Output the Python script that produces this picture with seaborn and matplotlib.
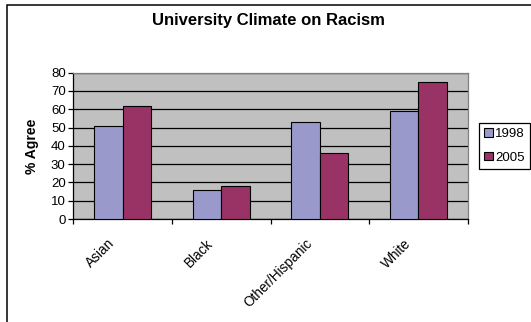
import matplotlib
matplotlib.use("Agg")
import matplotlib.pyplot as plt
import matplotlib.transforms as mtransforms
from matplotlib.patches import Rectangle
import seaborn as sns
import pandas as pd

# Survey results: share of respondents who agree, by group and year
groups = ["Asian", "Black", "Other/Hispanic", "White"]
years = ["1998", "2005"]
agree_1998 = [51, 16, 53, 59]
agree_2005 = [62, 18, 36, 75]
y_ticks = [0, 10, 20, 30, 40, 50, 60, 70, 80]

df = pd.DataFrame({
    "group": groups * 2,
    "year": [years[0]] * len(groups) + [years[1]] * len(groups),
    "agree": agree_1998 + agree_2005,
})

sns.set_theme(style="white")
plt.rcParams["font.family"] = ["Liberation Sans", "DejaVu Sans"]
for key in ["text.color", "axes.labelcolor", "xtick.color", "ytick.color"]:
    plt.rcParams[key] = "black"

W, H = 531, 322
fig = plt.figure(figsize=(W / 100, H / 100), dpi=100)
fig.patch.set_facecolor("white")

# plot area in pixel coordinates
left, right, top, bottom = 73.3, 467.7, 72.7, 219.0
ax = fig.add_axes([left / W, 1 - bottom / H, (right - left) / W, (bottom - top) / H])
ax.set_facecolor("#C0C0C0")

palette = {"1998": "#9999CC", "2005": "#993366"}
sns.barplot(data=df, x="group", y="agree", hue="year", order=groups,
            hue_order=years, palette=palette, width=0.576, gap=0,
            edgecolor="black", linewidth=0.8, saturation=1, ax=ax, zorder=3)

handles, labels = ax.get_legend_handles_labels()
if ax.get_legend() is not None:
    ax.get_legend().remove()

ax.set_xlim(-0.5, len(groups) - 0.5)
ax.set_ylim(0, 80)
ax.set_yticks(y_ticks)
ax.set_yticklabels([str(v) for v in y_ticks], fontsize=9.5)
ax.yaxis.grid(True, color="black", linewidth=0.9)
ax.set_axisbelow(True)
ax.tick_params(axis="y", direction="out", length=3.5, width=0.9, color="black",
               left=True, pad=2)

# category boundaries carry the tick marks, centres carry the labels
ax.set_xticks([i - 0.5 for i in range(len(groups) + 1)])
ax.set_xticklabels([""] * (len(groups) + 1))
ax.set_xticks(range(len(groups)), minor=True)
ax.set_xticklabels(groups, minor=True, fontsize=9.8, rotation=45,
                   ha="right", va="top")
ax.tick_params(axis="x", which="major", direction="out", length=3.5,
               width=0.9, color="black", bottom=True)
ax.tick_params(axis="x", which="minor", length=0, pad=12.5)
shift = mtransforms.ScaledTranslation(-5 / 100, 0, fig.dpi_scale_trans)
for lab in ax.get_xticklabels(minor=True):
    lab.set_transform(lab.get_transform() + shift)

ax.set_xlabel("")
ax.set_ylabel("")
for side in ["left", "bottom"]:
    ax.spines[side].set_color("black")
    ax.spines[side].set_linewidth(0.9)
for side in ["top", "right"]:
    ax.spines[side].set_color("#808080")
    ax.spines[side].set_linewidth(0.9)

fig.text(31.7 / W, 1 - 146 / H, "% Agree", rotation=90, ha="center",
         va="center", fontsize=10, fontweight="bold")
fig.text(268 / W, 1 - 25 / H, "University Climate on Racism", ha="center",
         va="baseline", fontsize=12, fontweight="bold")

leg = fig.legend(handles, labels, loc="upper left",
                 bbox_to_anchor=(479 / W, 1 - 123 / H), fontsize=9.5,
                 frameon=True, fancybox=False, framealpha=1,
                 edgecolor="black", handlelength=0.65, handleheight=0.65,
                 handletextpad=0.15, labelspacing=0.85, borderpad=0.4,
                 borderaxespad=0)
leg.get_frame().set_linewidth(0.9)

# chart area border
fig.patches.append(Rectangle((7 / W, -0.5), 2, 1 - 5 / H + 0.5,
                             transform=fig.transFigure, fill=False,
                             edgecolor="black", linewidth=1.1))

fig.savefig("out.png", dpi=100)
